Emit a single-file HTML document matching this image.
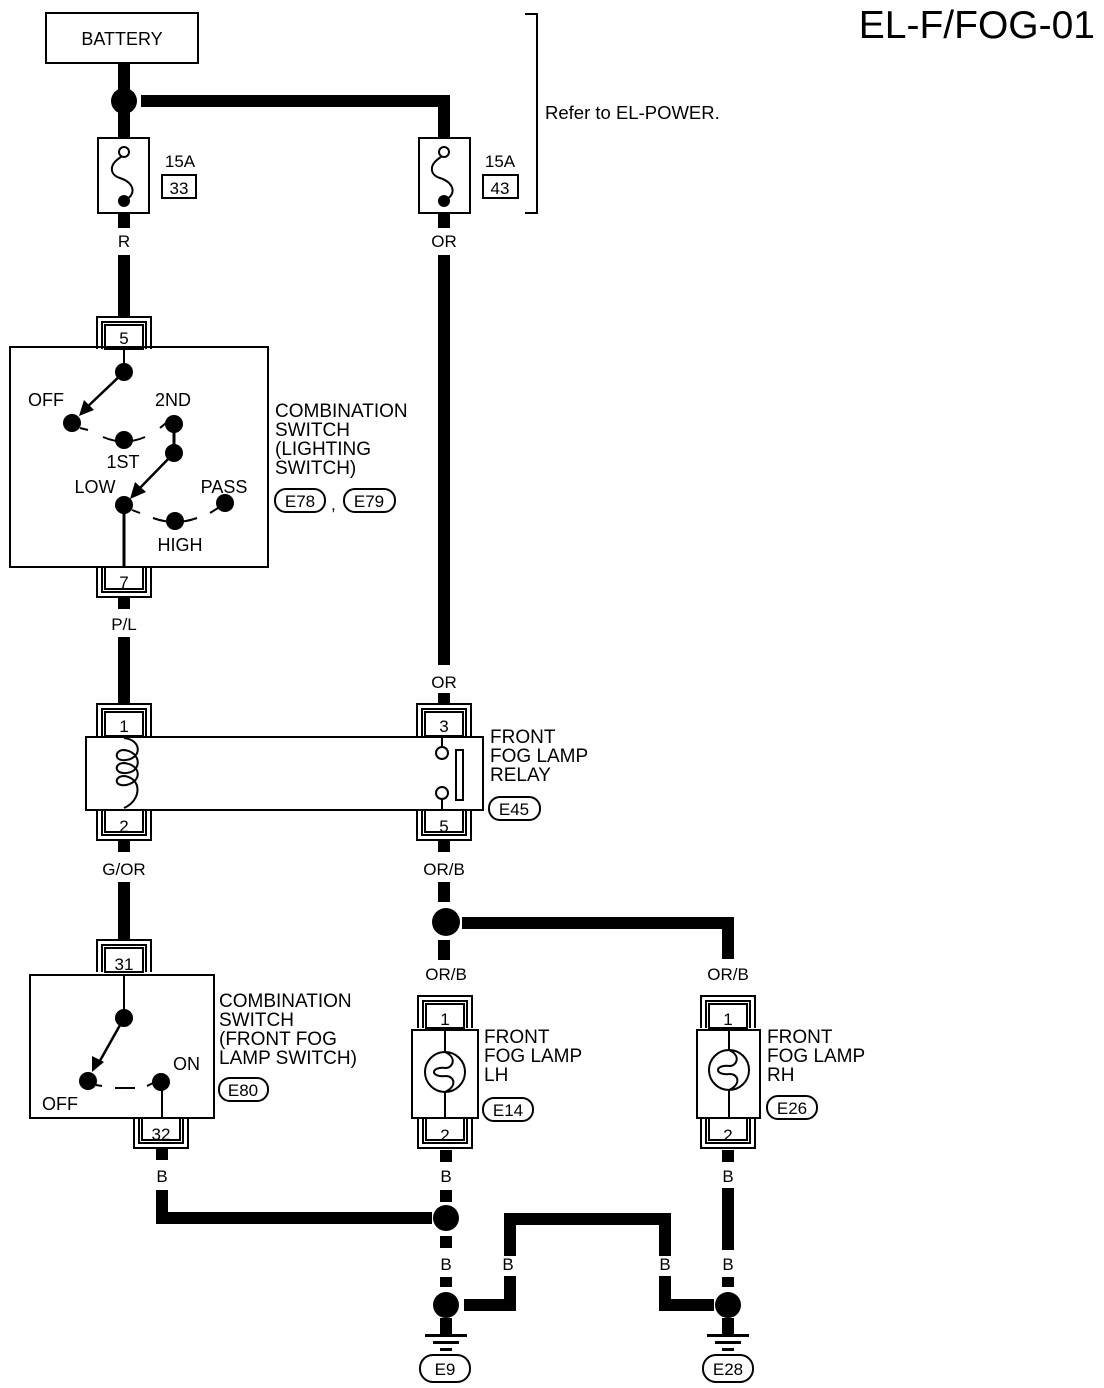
<!DOCTYPE html>
<html><head><meta charset="utf-8"><style>
html,body{margin:0;padding:0;background:#fff;}
svg{display:block;}
text{font-family:"Liberation Sans",Arial,sans-serif;fill:#000;}
</style></head><body>
<svg width="1104" height="1388" viewBox="0 0 1104 1388" xmlns="http://www.w3.org/2000/svg">
<defs>
<g id="ctop"><path d="M-27,32 V0 H27 V32" fill="none" stroke="#000" stroke-width="2"/><path d="M-22,32 V5 H22 V32" fill="none" stroke="#000" stroke-width="2"/><rect x="-19" y="8" width="38" height="24" fill="#fff" stroke="#000" stroke-width="2"/></g>
<g id="cbot"><path d="M-27,0 V30 H27 V0" fill="none" stroke="#000" stroke-width="2"/><path d="M-22,0 V25 H22 V0" fill="none" stroke="#000" stroke-width="2"/><rect x="-19" y="0" width="38" height="22" fill="#fff" stroke="#000" stroke-width="2"/></g>
<g id="gnd"><rect x="-6" y="0" width="12" height="16" fill="#000"/><rect x="-21" y="16" width="42" height="3" fill="#000"/><rect x="-13" y="23" width="26" height="3" fill="#000"/><rect x="-6" y="30" width="12" height="3" fill="#000"/></g>
</defs>

<text x="1095" y="38" font-size="39" text-anchor="end">EL-F/FOG-01</text>

<!-- battery -->
<rect x="46" y="13" width="152" height="50" fill="#fff" stroke="#000" stroke-width="2"/>
<text x="122" y="45" font-size="18" text-anchor="middle">BATTERY</text>
<rect x="118" y="63" width="12" height="76" fill="#000"/>
<circle cx="124" cy="101" r="13" fill="#000"/>
<rect x="141" y="95" width="309" height="12" fill="#000"/>
<rect x="438" y="95" width="12" height="44" fill="#000"/>

<!-- bracket -->
<path d="M525,14 H537 V213 H525" fill="none" stroke="#000" stroke-width="2"/>
<text x="545" y="119" font-size="18.5">Refer to EL-POWER.</text>

<!-- fuses -->
<g>
<rect x="98" y="138" width="51" height="75" fill="#fff" stroke="#000" stroke-width="2"/>
<circle cx="124" cy="152" r="5" fill="#fff" stroke="#000" stroke-width="2"/>
<path d="M121,157 C108,165 110,175 120,178 C132,182 138,192 126,200" fill="none" stroke="#000" stroke-width="2"/>
<circle cx="124" cy="201" r="6" fill="#000"/>
<text x="180" y="167" font-size="17" text-anchor="middle">15A</text>
<rect x="162" y="175" width="34" height="23" fill="#fff" stroke="#000" stroke-width="2"/>
<text x="179" y="194" font-size="17" text-anchor="middle">33</text>
</g>
<g>
<rect x="419" y="138" width="51" height="75" fill="#fff" stroke="#000" stroke-width="2"/>
<circle cx="444" cy="152" r="5" fill="#fff" stroke="#000" stroke-width="2"/>
<path d="M441,157 C428,165 430,175 440,178 C452,182 458,192 446,200" fill="none" stroke="#000" stroke-width="2"/>
<circle cx="444" cy="201" r="6" fill="#000"/>
<text x="500" y="167" font-size="17" text-anchor="middle">15A</text>
<rect x="483" y="175" width="35" height="23" fill="#fff" stroke="#000" stroke-width="2"/>
<text x="500" y="194" font-size="17" text-anchor="middle">43</text>
</g>

<!-- left wire -->
<rect x="118" y="213" width="12" height="15" fill="#000"/>
<text x="124" y="247" font-size="17" text-anchor="middle">R</text>
<rect x="118" y="255" width="12" height="63" fill="#000"/>
<use href="#ctop" x="124" y="317"/>
<text x="124" y="344" font-size="17" text-anchor="middle">5</text>

<!-- lighting switch -->
<rect x="10" y="347" width="258" height="220" fill="none" stroke="#000" stroke-width="2"/>
<line x1="124" y1="347" x2="124" y2="372" stroke="#000" stroke-width="2"/>
<circle cx="124" cy="372" r="9" fill="#000"/>
<line x1="124" y1="372" x2="84" y2="410" stroke="#000" stroke-width="2.5"/>
<polygon points="79,416 84,400 94,410" fill="#000"/>
<circle cx="72" cy="423" r="9" fill="#000"/>
<path d="M80,428 L88,430" stroke="#000" stroke-width="2"/>
<path d="M103,437 Q124,446 145,437" fill="none" stroke="#000" stroke-width="2"/>
<circle cx="124" cy="440" r="9" fill="#000"/>
<path d="M160,428 L166,423" stroke="#000" stroke-width="2"/>
<circle cx="174" cy="424" r="9" fill="#000"/>
<line x1="174" y1="424" x2="174" y2="453" stroke="#000" stroke-width="3"/>
<circle cx="174" cy="453" r="9" fill="#000"/>
<line x1="174" y1="453" x2="136" y2="492" stroke="#000" stroke-width="2.5"/>
<polygon points="130,499 135,482 146,492" fill="#000"/>
<circle cx="124" cy="505" r="9" fill="#000"/>
<path d="M132,510 L140,513" stroke="#000" stroke-width="2"/>
<path d="M153,518 Q175,526 197,518" fill="none" stroke="#000" stroke-width="2"/>
<circle cx="175" cy="521" r="9" fill="#000"/>
<path d="M210,513 L218,508" stroke="#000" stroke-width="2"/>
<circle cx="225" cy="503" r="9" fill="#000"/>
<line x1="124" y1="505" x2="124" y2="567" stroke="#000" stroke-width="3"/>
<text x="46" y="406" font-size="18" text-anchor="middle">OFF</text>
<text x="173" y="406" font-size="18" text-anchor="middle">2ND</text>
<text x="123" y="468" font-size="18" text-anchor="middle">1ST</text>
<text x="95" y="493" font-size="18" text-anchor="middle">LOW</text>
<text x="224" y="493" font-size="18" text-anchor="middle">PASS</text>
<text x="180" y="551" font-size="18" text-anchor="middle">HIGH</text>
<g font-size="19"><text x="275" y="417">COMBINATION</text><text x="275" y="436">SWITCH</text><text x="275" y="455">(LIGHTING</text><text x="275" y="474"> SWITCH)</text></g>
<rect x="275" y="489" width="50" height="23" rx="11" fill="#fff" stroke="#000" stroke-width="2"/>
<text x="300" y="507" font-size="17" text-anchor="middle">E78</text>
<text x="331" y="510" font-size="17">,</text>
<rect x="344" y="489" width="51" height="23" rx="11" fill="#fff" stroke="#000" stroke-width="2"/>
<text x="369" y="507" font-size="17" text-anchor="middle">E79</text>

<use href="#cbot" x="124" y="567"/>
<text x="124" y="588" font-size="17" text-anchor="middle">7</text>
<rect x="118" y="597" width="12" height="12" fill="#000"/>
<text x="124" y="630" font-size="17" text-anchor="middle">P/L</text>
<rect x="118" y="637" width="12" height="68" fill="#000"/>

<!-- right OR wire -->
<rect x="438" y="213" width="12" height="15" fill="#000"/>
<text x="444" y="247" font-size="17" text-anchor="middle">OR</text>
<rect x="438" y="255" width="12" height="410" fill="#000"/>
<text x="444" y="688" font-size="17" text-anchor="middle">OR</text>
<rect x="438" y="693" width="12" height="12" fill="#000"/>

<!-- relay -->
<use href="#ctop" x="124" y="704"/>
<text x="124" y="732" font-size="17" text-anchor="middle">1</text>
<use href="#ctop" x="444" y="704"/>
<text x="444" y="732" font-size="17" text-anchor="middle">3</text>
<rect x="86" y="737" width="397" height="73" fill="#fff" stroke="#000" stroke-width="2"/>
<path d="M124,738 C142,740 142,758 126,760 C114,762 114,750 124,750 C142,752 142,772 126,773 C114,774 114,763 124,763 C142,765 142,782 126,785 C114,787 114,776 124,776 C142,778 142,800 124,808" fill="none" stroke="#000" stroke-width="2"/>
<line x1="442" y1="737" x2="442" y2="747" stroke="#000" stroke-width="2"/>
<circle cx="442" cy="753" r="6" fill="#fff" stroke="#000" stroke-width="2"/>
<circle cx="442" cy="793" r="6" fill="#fff" stroke="#000" stroke-width="2"/>
<line x1="442" y1="799" x2="442" y2="810" stroke="#000" stroke-width="2"/>
<rect x="456" y="750" width="7" height="50" fill="#fff" stroke="#000" stroke-width="2"/>
<g font-size="19"><text x="490" y="743">FRONT</text><text x="490" y="762">FOG LAMP</text><text x="490" y="781">RELAY</text></g>
<rect x="489" y="797" width="51" height="23" rx="11" fill="#fff" stroke="#000" stroke-width="2"/>
<text x="514" y="815" font-size="17" text-anchor="middle">E45</text>
<use href="#cbot" x="124" y="810"/>
<text x="124" y="832" font-size="17" text-anchor="middle">2</text>
<use href="#cbot" x="444" y="810"/>
<text x="444" y="832" font-size="17" text-anchor="middle">5</text>
<rect x="118" y="840" width="12" height="12" fill="#000"/>
<text x="124" y="875" font-size="17" text-anchor="middle">G/OR</text>
<rect x="118" y="882" width="12" height="58" fill="#000"/>
<rect x="438" y="840" width="12" height="12" fill="#000"/>
<text x="444" y="875" font-size="17" text-anchor="middle">OR/B</text>
<rect x="438" y="882" width="12" height="20" fill="#000"/>
<circle cx="446" cy="922" r="14" fill="#000"/>
<rect x="462" y="917" width="272" height="12" fill="#000"/>
<rect x="722" y="917" width="12" height="42" fill="#000"/>
<rect x="438" y="940" width="12" height="20" fill="#000"/>
<text x="446" y="980" font-size="17" text-anchor="middle">OR/B</text>
<text x="728" y="980" font-size="17" text-anchor="middle">OR/B</text>

<!-- fog switch -->
<use href="#ctop" x="124" y="940"/>
<text x="124" y="970" font-size="17" text-anchor="middle">31</text>
<rect x="30" y="975" width="184" height="143" fill="none" stroke="#000" stroke-width="2"/>
<line x1="124" y1="975" x2="124" y2="1018" stroke="#000" stroke-width="2"/>
<circle cx="124" cy="1018" r="9" fill="#000"/>
<line x1="124" y1="1018" x2="97" y2="1066" stroke="#000" stroke-width="2.5"/>
<polygon points="92,1072 92,1056 104,1062" fill="#000"/>
<circle cx="88" cy="1081" r="9" fill="#000"/>
<path d="M96,1085 L102,1086" stroke="#000" stroke-width="2"/>
<line x1="115" y1="1088" x2="135" y2="1088" stroke="#000" stroke-width="2"/>
<path d="M147,1086 L153,1083" stroke="#000" stroke-width="2"/>
<circle cx="161" cy="1082" r="9" fill="#000"/>
<line x1="162" y1="1082" x2="162" y2="1118" stroke="#000" stroke-width="2"/>
<text x="42" y="1110" font-size="18">OFF</text>
<text x="173" y="1070" font-size="18">ON</text>
<g font-size="19"><text x="219" y="1007">COMBINATION</text><text x="219" y="1026">SWITCH</text><text x="219" y="1045">(FRONT FOG</text><text x="219" y="1064"> LAMP SWITCH)</text></g>
<rect x="219" y="1078" width="49" height="23" rx="11" fill="#fff" stroke="#000" stroke-width="2"/>
<text x="243" y="1096" font-size="17" text-anchor="middle">E80</text>
<use href="#cbot" x="161" y="1118"/>
<text x="161" y="1140" font-size="17" text-anchor="middle">32</text>
<rect x="156" y="1148" width="12" height="12" fill="#000"/>
<text x="162" y="1182" font-size="17" text-anchor="middle">B</text>
<rect x="156" y="1190" width="12" height="34" fill="#000"/>
<rect x="156" y="1212" width="276" height="12" fill="#000"/>

<!-- LH lamp -->
<use href="#ctop" x="445" y="996"/>
<text x="445" y="1025" font-size="17" text-anchor="middle">1</text>
<rect x="412" y="1030" width="66" height="88" fill="#fff" stroke="#000" stroke-width="2"/>
<line x1="445" y1="1030" x2="445" y2="1118" stroke="#000" stroke-width="2"/>
<circle cx="445" cy="1072" r="20" fill="#fff" stroke="#000" stroke-width="2"/>
<path d="M445,1052 C458,1058 452,1068 446,1068 C430,1066 430,1078 446,1076 C454,1076 458,1086 445,1092" fill="none" stroke="#000" stroke-width="2"/>
<g font-size="19"><text x="484" y="1043">FRONT</text><text x="484" y="1062">FOG LAMP</text><text x="484" y="1081">LH</text></g>
<rect x="483" y="1098" width="50" height="23" rx="11" fill="#fff" stroke="#000" stroke-width="2"/>
<text x="508" y="1116" font-size="17" text-anchor="middle">E14</text>
<use href="#cbot" x="445" y="1118"/>
<text x="445" y="1141" font-size="17" text-anchor="middle">2</text>
<rect x="440" y="1150" width="12" height="12" fill="#000"/>
<text x="446" y="1182" font-size="17" text-anchor="middle">B</text>
<rect x="440" y="1190" width="12" height="12" fill="#000"/>
<circle cx="446" cy="1218" r="13" fill="#000"/>
<rect x="440" y="1236" width="12" height="12" fill="#000"/>
<text x="446" y="1270" font-size="17" text-anchor="middle">B</text>
<rect x="440" y="1277" width="12" height="10" fill="#000"/>
<circle cx="446" cy="1305" r="13" fill="#000"/>
<use href="#gnd" x="446" y="1318"/>
<rect x="420" y="1355" width="50" height="27" rx="13" fill="#fff" stroke="#000" stroke-width="2"/>
<text x="445" y="1375" font-size="17" text-anchor="middle">E9</text>

<!-- middle ground path -->
<rect x="464" y="1299" width="52" height="12" fill="#000"/>
<rect x="504" y="1276" width="12" height="35" fill="#000"/>
<text x="508" y="1270" font-size="17" text-anchor="middle">B</text>
<rect x="504" y="1213" width="12" height="43" fill="#000"/>
<rect x="504" y="1213" width="167" height="12" fill="#000"/>
<rect x="659" y="1213" width="12" height="43" fill="#000"/>
<text x="665" y="1270" font-size="17" text-anchor="middle">B</text>
<rect x="659" y="1276" width="12" height="35" fill="#000"/>
<rect x="659" y="1299" width="55" height="12" fill="#000"/>

<!-- RH lamp -->
<use href="#ctop" x="728" y="996"/>
<text x="728" y="1025" font-size="17" text-anchor="middle">1</text>
<rect x="697" y="1030" width="63" height="88" fill="#fff" stroke="#000" stroke-width="2"/>
<line x1="729" y1="1030" x2="729" y2="1118" stroke="#000" stroke-width="2"/>
<circle cx="729" cy="1070" r="20" fill="#fff" stroke="#000" stroke-width="2"/>
<path d="M729,1050 C742,1056 736,1066 730,1066 C714,1064 714,1076 730,1074 C738,1074 742,1084 729,1090" fill="none" stroke="#000" stroke-width="2"/>
<g font-size="19"><text x="767" y="1043">FRONT</text><text x="767" y="1062">FOG LAMP</text><text x="767" y="1081">RH</text></g>
<rect x="767" y="1096" width="50" height="23" rx="11" fill="#fff" stroke="#000" stroke-width="2"/>
<text x="792" y="1114" font-size="17" text-anchor="middle">E26</text>
<use href="#cbot" x="728" y="1118"/>
<text x="728" y="1141" font-size="17" text-anchor="middle">2</text>
<rect x="722" y="1150" width="12" height="12" fill="#000"/>
<text x="728" y="1182" font-size="17" text-anchor="middle">B</text>
<rect x="722" y="1188" width="12" height="62" fill="#000"/>
<text x="728" y="1270" font-size="17" text-anchor="middle">B</text>
<rect x="722" y="1277" width="12" height="10" fill="#000"/>
<circle cx="728" cy="1305" r="13" fill="#000"/>
<use href="#gnd" x="728" y="1318"/>
<rect x="703" y="1355" width="50" height="27" rx="13" fill="#fff" stroke="#000" stroke-width="2"/>
<text x="728" y="1375" font-size="17" text-anchor="middle">E28</text>
</svg>
</body></html>
